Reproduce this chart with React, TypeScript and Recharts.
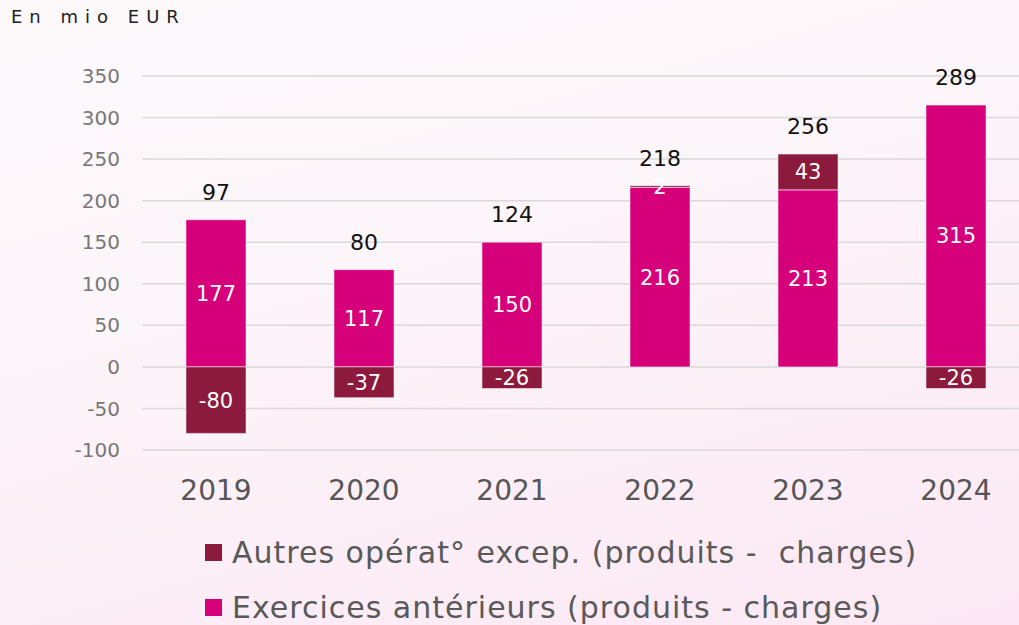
import { BarChart, Bar, XAxis, YAxis, CartesianGrid, LabelList } from 'recharts'

const years = ['2019', '2020', '2021', '2022', '2023', '2024']
const exercicesAnterieurs = [177, 117, 150, 216, 213, 315]
const autresOperations = [-80, -37, -26, 2, 43, -26]
const totals = [97, 80, 124, 218, 256, 289]
const yTicks = [-100, -50, 0, 50, 100, 150, 200, 250, 300, 350]

const PINK = '#d6007a'
const MAROON = '#8c1a3d'
const FONT = '"DejaVu Sans", "Open Sans", sans-serif'
const TOTAL_OFFSET = 20

const data = years.map((year, i) => ({
  year,
  exercices: exercicesAnterieurs[i],
  autres: autresOperations[i],
  total: totals[i],
}))

const legendItems = [
  { label: 'Autres opérat° excep. (produits -  charges)', color: MAROON },
  { label: 'Exercices antérieurs (produits - charges)', color: PINK },
]

// total label sits on whichever segment is on top of the stack
const makeTotalLabel = (onTop: (i: number) => boolean) => (props: any) => {
  const { x, y, width, index } = props
  if (!onTop(index)) return null
  return (
    <text
      x={x + width / 2}
      y={y - TOTAL_OFFSET}
      textAnchor="middle"
      fill="#111"
      fontSize={22}
      fontFamily={FONT}
    >
      {totals[index]}
    </text>
  )
}

export default function App() {
  return (
    <div
      style={{
        position: 'fixed',
        left: 0,
        top: 0,
        width: 1019,
        height: 625,
        overflow: 'hidden',
        fontFamily: FONT,
        background:
          'linear-gradient(165deg, #fdf9fb 0%, #fcf5f9 40%, #fcedf6 75%, #fbe8f4 100%)',
      }}
    >
      <div
        style={{
          position: 'absolute',
          left: 11,
          top: 6,
          fontSize: 18,
          letterSpacing: 7,
          color: '#222',
        }}
      >
        En mio EUR
      </div>

      <BarChart
        width={1030}
        height={520}
        data={data}
        stackOffset="sign"
        barSize={60}
        margin={{ top: 76, right: 0, left: 0, bottom: 0 }}
      >
        <CartesianGrid vertical={false} stroke="#d9d9d9" strokeWidth={1.5} />
        <XAxis
          dataKey="year"
          axisLine={false}
          tickLine={false}
          tickSize={0}
          tickMargin={30}
          height={70}
          tick={{ fontSize: 28, fill: '#555', fontFamily: FONT }}
        />
        <YAxis
          width={142}
          domain={[-100, 350]}
          ticks={yTicks}
          interval={0}
          axisLine={false}
          tickLine={false}
          tickSize={0}
          tickMargin={22}
          tick={{ fontSize: 20, fill: '#777', fontFamily: FONT }}
        />
        <Bar
          dataKey="exercices"
          stackId="a"
          fill={PINK}
          stroke="#ffffff"
          strokeOpacity={0.5}
          strokeWidth={1}
          isAnimationActive={false}
        >
          <LabelList
            dataKey="exercices"
            position="center"
            fill="#fff"
            fontSize={21}
            fontFamily={FONT}
          />
          <LabelList
            dataKey="total"
            content={makeTotalLabel((i) => autresOperations[i] < 0)}
          />
        </Bar>
        <Bar
          dataKey="autres"
          stackId="a"
          fill={MAROON}
          stroke="#ffffff"
          strokeOpacity={0.5}
          strokeWidth={1}
          isAnimationActive={false}
        >
          <LabelList
            dataKey="autres"
            position="center"
            fill="#fff"
            fontSize={21}
            fontFamily={FONT}
          />
          <LabelList
            dataKey="total"
            content={makeTotalLabel((i) => autresOperations[i] >= 0)}
          />
        </Bar>
      </BarChart>

      {legendItems.map((item, i) => (
        <div
          key={item.label}
          style={{
            position: 'absolute',
            left: 205,
            top: 535 + i * 55,
            display: 'flex',
            alignItems: 'center',
            gap: 10,
            fontSize: 30,
            letterSpacing: 1,
            color: '#595959',
            whiteSpace: 'pre',
          }}
        >
          <span style={{ width: 17, height: 17, background: item.color, display: 'inline-block' }} />
          <span>{item.label}</span>
        </div>
      ))}
    </div>
  )
}
